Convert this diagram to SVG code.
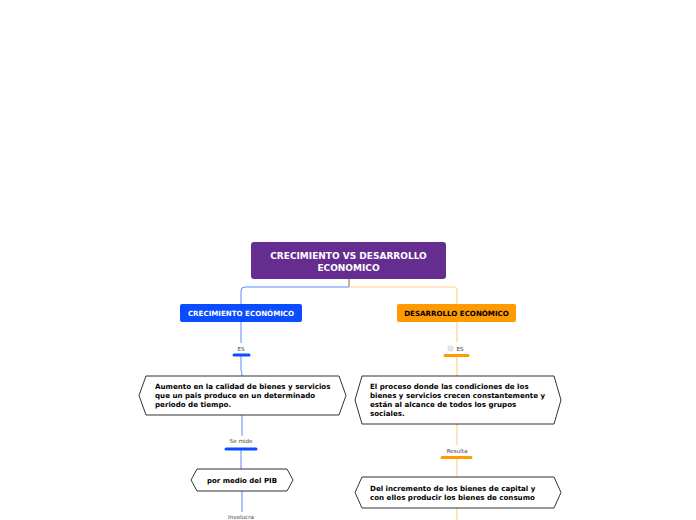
<svg xmlns="http://www.w3.org/2000/svg" width="696" height="520" viewBox="0 0 696 520">
<style>
text{font-family:"DejaVu Sans",Verdana,sans-serif;font-weight:bold}
.lbl{font-size:5.6px;font-weight:normal;fill:#444;text-anchor:middle}
.hex{fill:#fff;stroke:#333;stroke-width:1}
.ht{font-size:7.1px;fill:#000}
.bl{fill:none;stroke:#5a8aff;stroke-width:1}
.or{fill:none;stroke:#ffd08e;stroke-width:1.2}
.bbar{stroke:#0a4cff;stroke-width:3;stroke-linecap:round}
.obar{stroke:#ff9a00;stroke-width:3;stroke-linecap:round}
</style>
<rect width="696" height="520" fill="#fff"/>
<g id="connectors">
<path d="M349,279 V287" stroke="#b89470" stroke-width="1.5" fill="none"/>
<path class="bl" d="M349,287 H245 Q241,287 241,291 V304" stroke-width="1.3"/>
<path class="or" d="M349,287 H453 Q457,287 457,291 V304" stroke="#ffc978" stroke-width="1.3"/>
<path class="bl" d="M241,322 V343"/>
<path class="bl" d="M241,356 V370 Q242,372 242,376"/>
<path class="bl" d="M242,415 V436"/>
<path class="bl" d="M241,450 V469"/>
<path class="bl" d="M242,491 V512"/>
<path class="or" d="M457,322 V342"/>
<path class="or" d="M457,356 V376"/>
<path class="or" d="M457,424 V445"/>
<path class="or" d="M457,458 V477"/>
<path class="or" d="M457,508 V520"/>
</g>
<g id="root">
<rect x="251" y="242" width="195" height="37" rx="3" fill="#662d91"/>
<text x="348.5" y="259" font-size="9" fill="#fff" text-anchor="middle">CRECIMIENTO VS DESARROLLO</text>
<text x="348.5" y="270.5" font-size="9" fill="#fff" text-anchor="middle">ECONOMICO</text>
</g>
<g id="crecimiento">
<rect x="180" y="304" width="122" height="18" rx="2" fill="#0a4cff"/>
<text x="241" y="315.5" font-size="7.1" fill="#fff" text-anchor="middle">CRECIMIENTO ECONÓMICO</text>
</g>
<g id="desarrollo">
<rect x="397" y="304" width="119" height="18" rx="2" fill="#ff9a00"/>
<text x="456.5" y="315.5" font-size="7.1" fill="#000" text-anchor="middle">DESARROLLO ECONÓMICO</text>
</g>
<g id="es-left">
<text class="lbl" x="241" y="350.5">ES</text>
<line class="bbar" x1="234" y1="355" x2="249" y2="355"/>
</g>
<g id="es-right">
<rect x="448" y="346" width="5" height="5" rx="1" fill="#e6e6e6" stroke="#ccc" stroke-width="0.5"/>
<text class="lbl" x="460" y="351">ES</text>
<line class="obar" x1="445" y1="355.5" x2="468" y2="355.5"/>
</g>
<g id="aumento">
<polygon class="hex" points="146,376 339,376 346,395.5 339,415 146,415 139,395.5"/>
<text class="ht" x="155" y="389">Aumento en la calidad de bienes y servicios</text>
<text class="ht" x="155" y="398">que un pais produce en un determinado</text>
<text class="ht" x="155" y="407">periodo de tiempo.</text>
</g>
<g id="proceso">
<polygon class="hex" points="362,376 554,376 561,400 554,424 362,424 355,400"/>
<text class="ht" x="370" y="389">El proceso donde las condiciones de los</text>
<text class="ht" x="370" y="398">bienes y servicios crecen constantemente y</text>
<text class="ht" x="370" y="407">están al alcance de todos los grupos</text>
<text class="ht" x="370" y="416">sociales.</text>
</g>
<g id="se-mide">
<text class="lbl" x="241" y="443">Se mide</text>
<line class="bbar" x1="226" y1="449" x2="256" y2="449"/>
</g>
<g id="pib">
<polygon class="hex" points="197,469 287,469 293,480 287,491 197,491 191,480"/>
<text x="242" y="482.5" font-size="7" fill="#000" text-anchor="middle">por medio del PIB</text>
</g>
<g id="involucra">
<text class="lbl" x="241" y="519">Involucra</text>
</g>
<g id="resulta">
<text class="lbl" x="457" y="452.5">Resulta</text>
<line class="obar" x1="442" y1="457.5" x2="471" y2="457.5"/>
</g>
<g id="incremento">
<polygon class="hex" points="362,477 554,477 561,492.5 554,508 362,508 355,492.5"/>
<text class="ht" x="370" y="490.5">Del incremento de los bienes de capital y</text>
<text class="ht" x="370" y="499.5">con ellos producir los bienes de consumo</text>
</g>
</svg>
